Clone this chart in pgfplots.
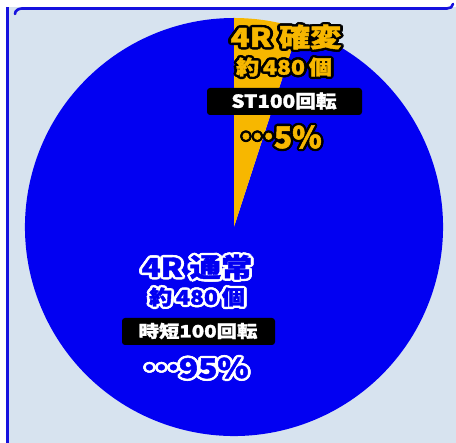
\documentclass[border=0pt]{standalone}
\usepackage{pgfplots}
\pgfplotsset{compat=1.18}
\usepackage{pgfplotstable}
\usepackage{fontspec}
\newfontfamily\cjk{Noto Sans CJK JP}[BoldFeatures={FakeBold=1.6}]

\definecolor{bgcol}{RGB}{215,227,239}
\definecolor{pieblue}{RGB}{2,0,242}
\definecolor{pieyellow}{RGB}{247,183,0}
\definecolor{framecol}{RGB}{22,18,222}

% share of each outcome, in percent
\pgfplotstableread{
part value
kakuhen 5
tsujo 95
}\piedata

% outlined label: x, y (pixels, y down), fill, stroke, size, xscale, text
\newcommand\outl[7]{%
  \pgfplotsinvokeforeach{0,30,...,330}{%
    \node[text=#4, font=\cjk\bfseries\fontsize{#5}{#5}\selectfont, xscale=#6,
      shift={(##1:2.4pt)}] at (axis cs:#1,-#2) {#7};}
  \node[text=#3, font=\cjk\bfseries\fontsize{#5}{#5}\selectfont, xscale=#6]
    at (axis cs:#1,-#2) {#7};
}
\newcommand\mdots{\raisebox{0.3em}{…}}

\begin{document}
\begin{tikzpicture}
\pgfplotstablegetelem{0}{value}\of\piedata \global\let\vA\pgfplotsretval
\pgfplotstablegetelem{1}{value}\of\piedata \global\let\vB\pgfplotsretval
\pgfmathsetmacro\aA{90-3.6*\vA}\global\let\aA\aA
\pgfmathsetmacro\aB{\aA-3.6*\vB}\global\let\aB\aB
\begin{axis}[
  hide axis, scale only axis, clip=false,
  width=456pt, height=443pt,
  xmin=0, xmax=456, ymin=-443, ymax=0,
  anchor=south west, at={(0,0)},
]
% background and frame
\fill[bgcol] (axis cs:0,0) rectangle (axis cs:456,-443);
\fill[white] (axis cs:0,0) rectangle (axis cs:456,-7);
\fill[white] (axis cs:0,0) rectangle (axis cs:6,-443);
\fill[framecol] (axis cs:6,-7) rectangle (axis cs:9,-443);
\draw[framecol, line width=2.6pt, line cap=round]
  (axis cs:15,-14) to[out=90,in=180] (axis cs:22,-8.5) -- (axis cs:447,-8.5)
  to[out=0,in=-90] (axis cs:453,-4);

% pie
\fill[pieblue] (axis cs:234,-227) -- ++(\aA:209pt)
  arc[start angle=\aA, end angle=\aB, radius=209pt] -- cycle;
\fill[pieyellow] (axis cs:234,-227) -- ++(90:209pt)
  arc[start angle=90, end angle=\aA, radius=209pt] -- cycle;

% 4R kakuhen label
\outl{286}{37}{pieyellow}{black}{26}{1.2}{4R 確変}
\outl{284}{67}{pieyellow}{black}{20}{1.15}{約\,480\,個}
\fill[black, rounded corners=3pt] (axis cs:207,-88) rectangle (axis cs:362,-115);
\node[text=white, font=\cjk\bfseries\fontsize{18}{18}\selectfont, xscale=1.15]
  at (axis cs:284,-101) {ST100回転};
\outl{281}{137}{pieyellow}{black}{30}{1.0}{\mdots 5\%}

% 4R tsujo label
\outl{197}{267}{pieblue}{white}{26}{1.2}{4R 通常}
\outl{197}{297}{pieblue}{white}{20}{1.15}{約\,480\,個}
\fill[black, rounded corners=3pt] (axis cs:122,-318) rectangle (axis cs:275,-345);
\node[text=white, font=\cjk\bfseries\fontsize{17}{17}\selectfont, xscale=1.2]
  at (axis cs:198,-331) {時短100回転};
\outl{196}{368}{pieblue}{white}{27}{1.17}{\mdots 95\%}
\end{axis}
\pgfresetboundingbox
\path[use as bounding box] (0,0) rectangle (456pt,443pt);
\end{tikzpicture}
\end{document}
